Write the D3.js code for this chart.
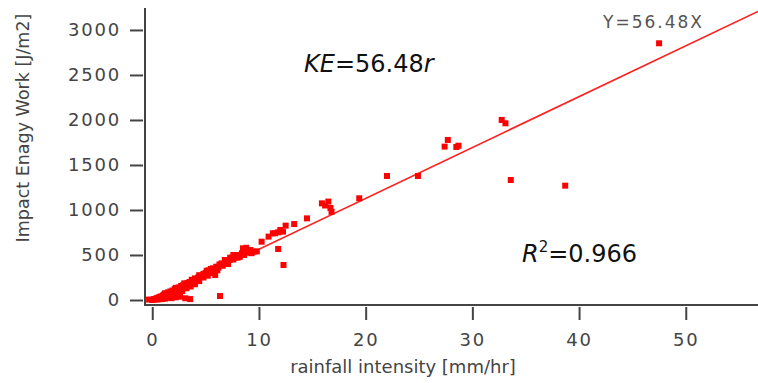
<!DOCTYPE html>
<html>
<head>
<meta charset="utf-8">
<script src="https://cdn.jsdelivr.net/npm/d3@7/dist/d3.min.js"></script>
<style>
  body { margin: 0; background: #fff; }
  svg { display: block; }
  .tick text { font-family: "DejaVu Sans", sans-serif; font-size: 18px; fill: #444; letter-spacing: 1.8px; }
  .tick line { stroke: #444; stroke-width: 2px; }
</style>
</head>
<body>
<div id="chart"></div>
<script>
// rainfall intensity [mm/hr]
const rain = [
  -0.3, 0, 0.1, 0.2, 0.3, 0.4, 0.5, 0.6, 0.7, 0.8, 0.9, 1.0, 1.0, 1.1, 1.2, 1.3, 1.4, 1.5, 1.5, 1.6,
  1.7, 1.8, 1.9, 2.0, 2.0, 2.1, 2.2, 2.3, 2.4, 2.5, 2.6, 2.7, 2.8, 2.9, 3.0, 3.1, 3.2, 3.3, 3.4, 3.5,
  3.6, 3.8, 3.9, 4.0, 4.1, 4.3, 4.5, 4.6, 4.8, 5.0, 5.2, 5.3, 5.5, 5.7, 5.8, 6.0, 6.2, 6.5, 6.8, 7.0,
  7.3, 7.6, 7.9, 8.2, 8.4, 8.5, 8.7, 9.0, 9.2, 9.5, 10.25, 10.9, 11.3, 11.5, 11.8, 12.0, 12.25, 12.5, 13.3, 14.5,
  15.9, 16.2, 16.5, 16.7, 16.8, 19.4, 22.0, 24.9, 27.4, 27.7, 28.7, 28.5, 32.75, 33.1, 33.6, 38.7, 47.5,
  5.9, 6.35, 3.55, 3.1, 2.6, 2.2, 1.8, 1.5, 1.2, 0.9, 11.8, 12.3,
  0.5, 1.0, 1.3, 1.6, 2.0, 2.4, 2.8, 3.2, 3.6, 4.0, 4.4, 4.8, 5.2, 5.6, 6.1, 6.6, 7.1, 7.6, 8.0, 8.6,
  9.3, 9.8, 1.2, 2.2, 3.0, 3.7, 4.4, 5.1, 6.3, 7.5, 8.8
];
// impact energy work [J/m2]
const energy = [
  5, 0, 5, 10, 8, 20, 15, 30, 25, 40, 30, 50, 35, 60, 45, 70, 55, 85, 60, 75,
  95, 70, 105, 90, 75, 120, 100, 130, 110, 140, 120, 155, 135, 165, 150, 175, 160, 190, 170, 200,
  185, 215, 200, 240, 225, 250, 270, 255, 290, 300, 315, 330, 345, 352, 330, 370, 360, 407, 444, 430,
  470, 500, 500, 480, 519, 574, 540, 526, 555, 537, 648, 704, 741, 741, 752, 778, 759, 826, 844, 907,
  1074, 1050, 1093, 1022, 980, 1130, 1378, 1378, 1704, 1778, 1714, 1700, 2000, 1963, 1333, 1270, 2852,
  278, 44, 10, 19, 37, 30, 20, 25, 15, 10, 567, 389,
  5, 20, 40, 50, 55, 80, 100, 130, 150, 175, 210, 250, 270, 300, 330, 380, 400, 450, 470, 500,
  520, 540, 75, 135, 185, 225, 275, 325, 395, 470, 580
];
const slope = 56.48;
const xTicks = [0, 10, 20, 30, 40, 50];
const yTicks = [0, 500, 1000, 1500, 2000, 2500, 3000];

const W = 758, H = 383;
const svg = d3.select('#chart').append('svg').attr('width', W).attr('height', H);

const x = d3.scaleLinear().domain([-0.68, 56.77]).range([145, 758]);
const y = d3.scaleLinear().domain([-55.6, 3244]).range([305, 8]);

// axes (ticks sit a bit away from the axis line)
svg.append('g')
  .attr('transform', 'translate(143,0)')
  .call(d3.axisLeft(y).tickValues(yTicks).tickSize(13).tickPadding(9).tickFormat(d3.format('d')))
  .call(g => g.select('.domain').remove());

svg.append('g')
  .attr('transform', 'translate(0,307)')
  .call(d3.axisBottom(x).tickValues(xTicks).tickSize(13).tickPadding(13).tickFormat(d3.format('d')))
  .call(g => g.select('.domain').remove());

svg.append('line')
  .attr('x1', x.range()[0]).attr('x2', x.range()[0])
  .attr('y1', y.range()[1]).attr('y2', y.range()[0] + 1)
  .attr('stroke', '#444').attr('stroke-width', 2);
svg.append('line')
  .attr('x1', x.range()[0]).attr('x2', x.range()[1])
  .attr('y1', y.range()[0]).attr('y2', y.range()[0])
  .attr('stroke', '#444').attr('stroke-width', 2);

// regression line
const xMax = x.domain()[1];
svg.append('line')
  .attr('x1', x(0)).attr('y1', y(0))
  .attr('x2', x(xMax)).attr('y2', y(slope * xMax))
  .attr('stroke', '#ff2020').attr('stroke-width', 1.6);

// points
const pts = rain.map((r, i) => ({ r: r, e: energy[i] }));
svg.append('g')
  .selectAll('rect')
  .data(pts)
  .enter().append('rect')
  .attr('x', d => x(d.r) - 3)
  .attr('y', d => y(d.e) - 3)
  .attr('width', 6)
  .attr('height', 6)
  .attr('fill', '#ff0000');

// labels
svg.append('text')
  .attr('x', 403).attr('y', 373)
  .attr('text-anchor', 'middle')
  .attr('font-family', 'DejaVu Sans, sans-serif')
  .attr('font-size', 18).attr('fill', '#444')
  .text('rainfall intensity [mm/hr]');

svg.append('text')
  .attr('transform', 'translate(29,128) rotate(-90)')
  .attr('text-anchor', 'middle')
  .attr('font-family', 'DejaVu Sans, sans-serif')
  .attr('font-size', 17.5).attr('fill', '#444')
  .text('Impact Enagy Work [J/m2]');

svg.append('text')
  .attr('x', 603).attr('y', 28)
  .attr('font-family', 'DejaVu Sans, sans-serif')
  .attr('font-size', 17).attr('fill', '#555')
  .attr('letter-spacing', 2)
  .text('Y=56.48X');

const ke = svg.append('text')
  .attr('x', 304).attr('y', 72)
  .attr('font-family', 'DejaVu Sans, sans-serif')
  .attr('font-size', 24).attr('fill', '#111');
ke.append('tspan').attr('font-style', 'italic').text('KE');
ke.append('tspan').text('=56.48');
ke.append('tspan').attr('font-style', 'italic').text('r');

const r2 = svg.append('text')
  .attr('x', 522).attr('y', 262)
  .attr('font-family', 'DejaVu Sans, sans-serif')
  .attr('font-size', 24).attr('fill', '#111');
r2.append('tspan').attr('font-style', 'italic').text('R');
r2.append('tspan').attr('font-size', 15).attr('dy', -10).text('2');
r2.append('tspan').attr('dy', 10).text('=0.966');
</script>
</body>
</html>
